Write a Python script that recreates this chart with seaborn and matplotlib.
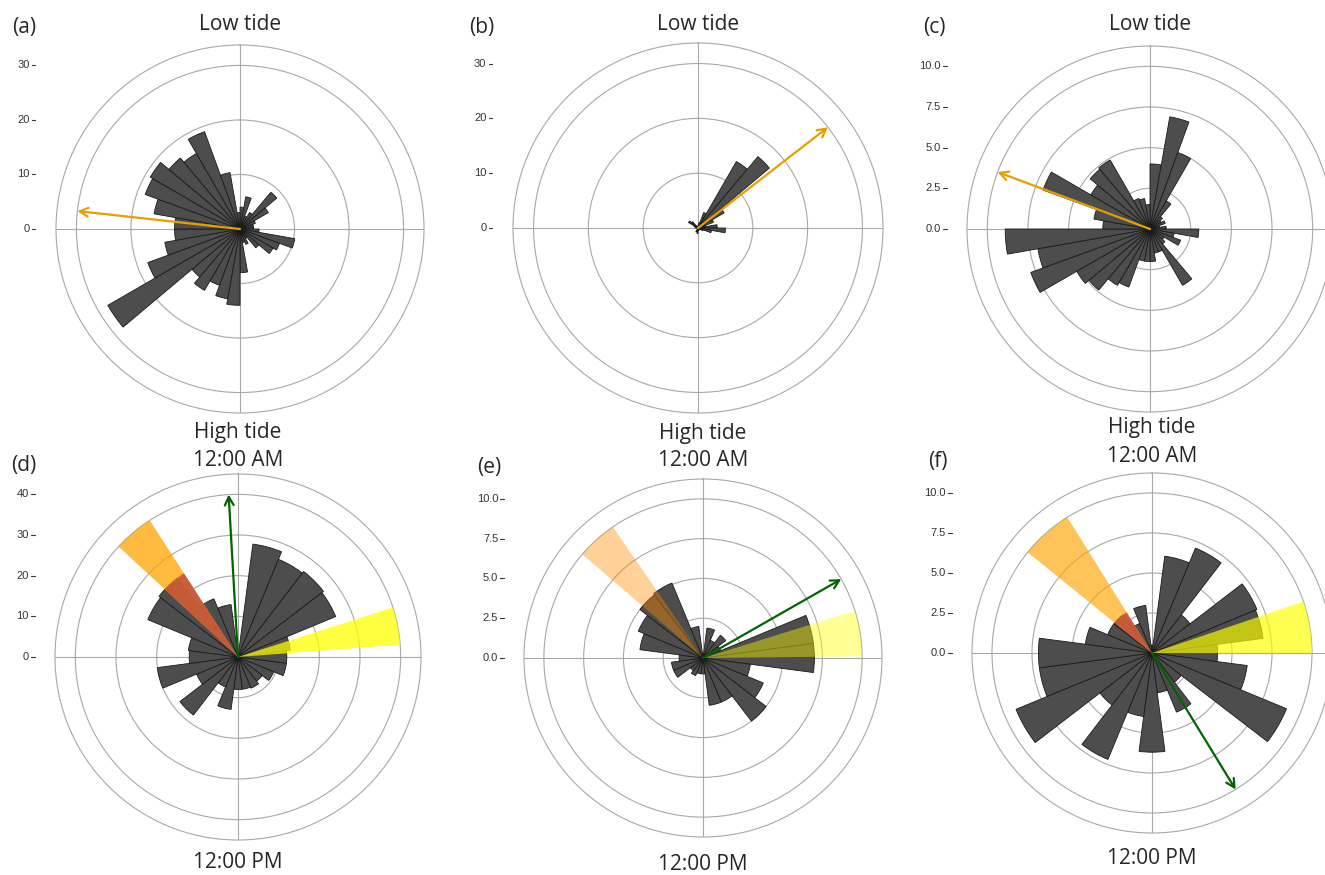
import numpy as np
import matplotlib
matplotlib.use("Agg")
import matplotlib.pyplot as plt
import seaborn as sns

W, H = 1325, 875

# ---------------- data ----------------
# upper row (low tide): 36 phase bins of 10 degrees, left edges in degrees
phase_edge = list(range(0, 360, 10))
count_a = [4, 6, 2.5, 3.5, 8.8, 6, 3, 2.5, 2.5, 3.5, 10.2, 7.7, 7, 4.5, 2, 3, 2.5, 8,
           14, 13, 11, 13, 11.5, 28, 18, 14, 12, 12, 16, 18.5, 19, 17, 16, 19, 10.5, 3]
count_b = [0.5, 1, 3, 14, 17, 5.5, 3, 1.5, 3.5, 5, 2.5, 1, 0.5, 0.5, 0, 0, 0, 0.5,
           1, 0.5, 0.8, 0, 0, 0, 0, 0, 0, 0.5, 0.5, 0.8, 2, 1.5, 0.5, 0, 0, 0]
count_c = [4, 7, 5, 2, 1, 0.8, 1, 0.6, 1, 3, 1.5, 2, 1, 1.2, 4, 1.5, 1.5, 2,
           2, 2, 3.8, 4, 4.9, 5.2, 7.8, 7, 8.9, 2.9, 3.5, 7, 4.2, 4.8, 4.9, 2, 1.9, 1.5]
low_mean_deg = [276.3, 52.2, 290.5]
low_top = [30, 30, 10]

# lower row (high tide): hour of day
hour = list(range(24))
count_d = [0, 28, 26, 26.5, 26, 13, 12, 12, 9.5, 7.5, 8.3, 8, 8, 13, 8, 18, 11, 20,
           12, 12.3, 24, 24.5, 15.5, 13]
count_e = [0.3, 1.9, 1.2, 1.8, 1.2, 7, 7, 3, 4.1, 5, 3, 3, 1, 1, 1.2, 1, 2, 2,
           1.5, 4, 4.4, 5, 5.1, 2]
count_f = [0.5, 6.1, 7.1, 3, 7.1, 7, 4.1, 6, 9.1, 2.3, 4, 2.5, 6.2, 4, 7.2, 4.1, 9.2, 7.1,
           7.1, 4.2, 3, 3, 2, 3]
high_mean_hour = [23.78, 4.02, 9.9]
high_top = [40, 10, 10]
sunrise = [(4.82, 5.71), (4.85, 5.96), (4.75, 6.0)]
sunset = [(20.85, 21.81), (20.71, 21.7), (20.6, 21.87)]
dusk_count = [24.5, None, 3.0]

# ---------------- style ----------------
sns.set_style("white")
plt.rcParams["font.family"] = ["Open Sans", "DejaVu Sans"]

BAR = "#4d4d4d"
EDGE = "#1a1a1a"
GRID = "#a8a8a8"
TICK = "#333333"
LOW_ARROW = "#e69f00"
HIGH_ARROW = "#006400"
sun_alpha = [0.75, 0.42, 0.68]
dusk_color = ["#ffa500", "#ff8c00", "#ffa500"]
dusk_alpha = [0.75, 0.4, 0.65]

# panel geometry in pixels: centre x, centre y, outer radius
low_geom = [(240, 229, 184), (698, 228, 185), (1150, 229, 183)]
high_geom = [(238, 657, 183), (703, 658, 179), (1152, 653, 180)]


def fig_xy(x, y):
    return x / W, 1 - y / H


def make_ax(fig, cx, cy, r):
    return fig.add_axes([(cx - r) / W, 1 - (cy + r) / H, 2 * r / W, 2 * r / H],
                        projection="polar")


def rose(ax, theta_deg, counts, width_deg, top, ticks, fmt):
    rlim = top * 1.125
    ax.set_theta_zero_location("N")
    ax.set_theta_direction(-1)
    ax.set_axisbelow(True)
    ax.bar(np.deg2rad(theta_deg), counts, width=np.deg2rad(width_deg), bottom=0,
           color=BAR, edgecolor=EDGE, linewidth=0.6, align="center", zorder=2)
    ax.set_ylim(0, rlim)
    ax.set_thetagrids([0, 90, 180, 270], labels=[])
    ax.set_rgrids([t for t in ticks if t > 0], labels=[])
    ax.grid(color=GRID, linewidth=0.8)
    ax.spines["polar"].set_color(GRID)
    ax.spines["polar"].set_linewidth(0.8)
    for v in ticks:
        y = 0.5 + 0.5 * v / rlim
        ax.text(-0.072, y, fmt.format(v), transform=ax.transAxes, ha="right",
                va="center", fontsize=8, color=TICK, family="Liberation Sans")
        ax.plot([-0.066, -0.056], [y, y], transform=ax.transAxes, color=TICK,
                lw=0.8, clip_on=False)
    return rlim


def arrow(ax, theta, r, color):
    ax.annotate("", xy=(theta, r), xytext=(0, 0),
                arrowprops=dict(arrowstyle="->,head_length=0.6,head_width=0.32",
                                color=color, lw=1.6, shrinkA=0, shrinkB=0),
                zorder=6)


fig = plt.figure(figsize=(W / 100, H / 100), dpi=100)

# ---------------- low tide row ----------------
low_counts = [count_a, count_b, count_c]
low_fmt = ["{:.0f}", "{:.0f}", "{:.1f}"]
low_labels = ["(a)", "(b)", "(c)"]
for i in range(3):
    cx, cy, r = low_geom[i]
    ax = make_ax(fig, cx, cy, r)
    top = low_top[i]
    ticks = list(np.linspace(0, top, 5 if top == 10 else 4))
    centres = [e + 5 for e in phase_edge]
    rose(ax, centres, low_counts[i], 10, top, ticks, low_fmt[i])
    arrow(ax, np.deg2rad(low_mean_deg[i]), top, LOW_ARROW)
    fig.text(*fig_xy(cx, 25), "Low tide", ha="center", va="center", fontsize=15)
    fig.text(*fig_xy(cx - 216, 28), low_labels[i], ha="center", va="center", fontsize=15)

# ---------------- high tide row ----------------
high_counts = [count_d, count_e, count_f]
high_fmt = ["{:.0f}", "{:.1f}", "{:.1f}"]
high_labels = ["(d)", "(e)", "(f)"]
hour_ang = np.array(hour) / 24 * 360
for i in range(3):
    cx, cy, r = high_geom[i]
    ax = make_ax(fig, cx, cy, r)
    top = high_top[i]
    ticks = list(np.linspace(0, top, 5))
    rose(ax, hour_ang, high_counts[i], 15, top, ticks, high_fmt[i])

    s0, s1 = sunrise[i]
    ax.bar(np.deg2rad((s0 + s1) / 2 * 15), top, width=np.deg2rad((s1 - s0) * 15),
           color="#ffff00", alpha=sun_alpha[i], linewidth=0, zorder=3)
    d0, d1 = sunset[i]
    ax.bar(np.deg2rad((d0 + d1) / 2 * 15), top, width=np.deg2rad((d1 - d0) * 15),
           color=dusk_color[i], alpha=dusk_alpha[i], linewidth=0, zorder=3)
    if dusk_count[i] is not None:
        ax.bar(np.deg2rad((d0 + d1) / 2 * 15), dusk_count[i],
               width=np.deg2rad((d1 - d0) * 15), color="#c5573a", alpha=0.92,
               linewidth=0, zorder=4)

    arrow(ax, np.deg2rad(high_mean_hour[i] * 15), top, HIGH_ARROW)
    fig.text(*fig_xy(cx, cy - 225), "High tide", ha="center", va="center", fontsize=15)
    fig.text(*fig_xy(cx, cy - 197), "12:00 AM", ha="center", va="center", fontsize=15)
    fig.text(*fig_xy(cx, cy + 206), "12:00 PM", ha="center", va="center", fontsize=15)
    fig.text(*fig_xy(cx - 214, cy - 191), high_labels[i], ha="center", va="center",
             fontsize=15)

fig.savefig("out.png", dpi=100)
